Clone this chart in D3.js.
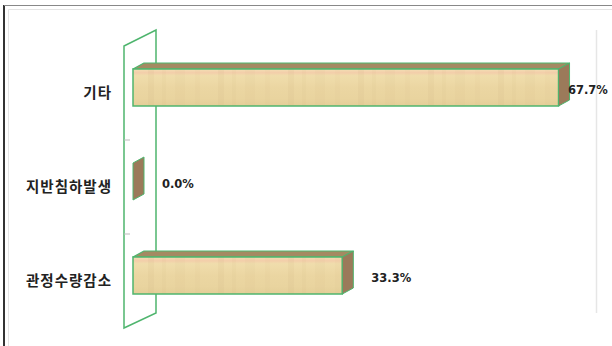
<!DOCTYPE html>
<html><head><meta charset="utf-8">
<script src="https://cdn.jsdelivr.net/npm/d3@7"></script>
<style>body{margin:0;background:#fff}svg{display:block}</style>
</head><body>
<script>
const categories = ["기타", "지반침하발생", "관정수량감소"];
const values = [67.7, 0.0, 33.3];
const valueLabels = ["67.7%", "0.0%", "33.3%"];
const xMax = 70;

const W = 612, H = 346;
const svg = d3.select("body").append("svg").attr("width", W).attr("height", H);

const defs = svg.append("defs");
const wood = defs.append("linearGradient").attr("id", "wood").attr("x1", 0).attr("y1", 0).attr("x2", 0).attr("y2", 1);
[[0, "#f3dfb4"], [0.1, "#f3ceaa"], [0.18, "#f0ddac"], [0.5, "#ebd6a2"], [0.8, "#e9d49f"], [1, "#e4ce98"]]
  .forEach(([o, c]) => wood.append("stop").attr("offset", o).attr("stop-color", c));
const streak = defs.append("pattern").attr("id", "streak").attr("patternUnits", "userSpaceOnUse")
  .attr("width", 70).attr("height", 400);
[[8, 6, 0.10], [22, 4, 0.07], [35, 10, 0.08], [55, 5, 0.06]].forEach(([x, w, o]) =>
  streak.append("rect").attr("x", x).attr("y", 0).attr("width", w).attr("height", 400).attr("fill", "#c9a978").attr("opacity", o));

// outer frame
svg.append("line").attr("x1", 4).attr("x2", 4).attr("y1", 5).attr("y2", H).attr("stroke", "#333").attr("stroke-width", 2);
svg.append("line").attr("x1", 4).attr("x2", W).attr("y1", 5.5).attr("y2", 5.5).attr("stroke", "#888").attr("stroke-width", 1);
svg.append("path").attr("d", `M8.5,${H}V9.5H${W}`).attr("fill", "none").attr("stroke", "#e4e4e4");

const x = d3.scaleLinear().domain([0, xMax]).range([133, 573]);
const yOuter = d3.scaleBand().domain(categories).range([46, 328]);
const barH = 37, lift = 5.5;
const dx = 11, dy = -6;
const green = "#4fb56e";

// back right gray line
svg.append("line").attr("x1", x(xMax) + 23.5).attr("x2", x(xMax) + 23.5).attr("y1", 30).attr("y2", 313)
  .attr("stroke", "#e6e6e6").attr("stroke-width", 1.5);

// wall
const wl = 124, wr = 156;
svg.append("path").attr("d", `M${wl},46L${wr},30L${wr},313L${wl},328Z`)
  .attr("fill", "#fff").attr("stroke", green).attr("stroke-width", 1.5);
categories.slice(1).forEach(c => {
  svg.append("line").attr("x1", wl).attr("x2", wl + 6).attr("y1", yOuter(c)).attr("y2", yOuter(c))
    .attr("stroke", "#bbb").attr("stroke-width", 1);
});

// category labels
svg.append("g").selectAll("text").data(categories).join("text")
  .attr("x", 112).attr("y", d => yOuter(d) + yOuter.bandwidth() / 2 + 5)
  .attr("text-anchor", "end")
  .attr("font-family", "'Noto Sans CJK KR', 'Noto Sans', sans-serif")
  .attr("font-weight", "bold").attr("font-size", 14.5).attr("letter-spacing", 1).attr("fill", "#222")
  .text(d => d);

// bars
const g = svg.append("g");
categories.forEach((c, i) => {
  const x0 = x(0), x1 = x(values[i]);
  const y0 = yOuter(c) + (yOuter.bandwidth() - barH) / 2 - lift;
  const h = barH, y1 = y0 + h;
  const bg = g.append("g");
  if (x1 - x0 > 0.5) {
    bg.append("path").attr("d", `M${x0},${y0}L${x0 + dx},${y0 + dy}L${x1 + dx},${y0 + dy}L${x1},${y0}Z`)
      .attr("fill", "#a48a62").attr("stroke", green).attr("stroke-width", 1.2).attr("stroke-linejoin", "round");
    bg.append("rect").attr("x", x0).attr("y", y0).attr("width", x1 - x0).attr("height", h)
      .attr("fill", "url(#wood)");
    bg.append("rect").attr("x", x0).attr("y", y0).attr("width", x1 - x0).attr("height", h)
      .attr("fill", "url(#streak)").attr("stroke", green).attr("stroke-width", 1.5);
  }
  bg.append("path").attr("d", `M${x1},${y0}L${x1 + dx},${y0 + dy}L${x1 + dx},${y1 + dy}L${x1},${y1}Z`)
    .attr("fill", "#9b7a5a").attr("stroke", green).attr("stroke-width", 1).attr("stroke-linejoin", "round");

  const lx = Math.min(x1 + dx + 18, W - 44);
  svg.append("text").attr("x", lx).attr("y", y0 + h / 2 + 6.5)
    .attr("font-family", "Verdana, 'DejaVu Sans', sans-serif")
    .attr("font-weight", "bold").attr("font-size", 11.5).attr("fill", "#222")
    .text(valueLabels[i]);
});
</script>
</body></html>
